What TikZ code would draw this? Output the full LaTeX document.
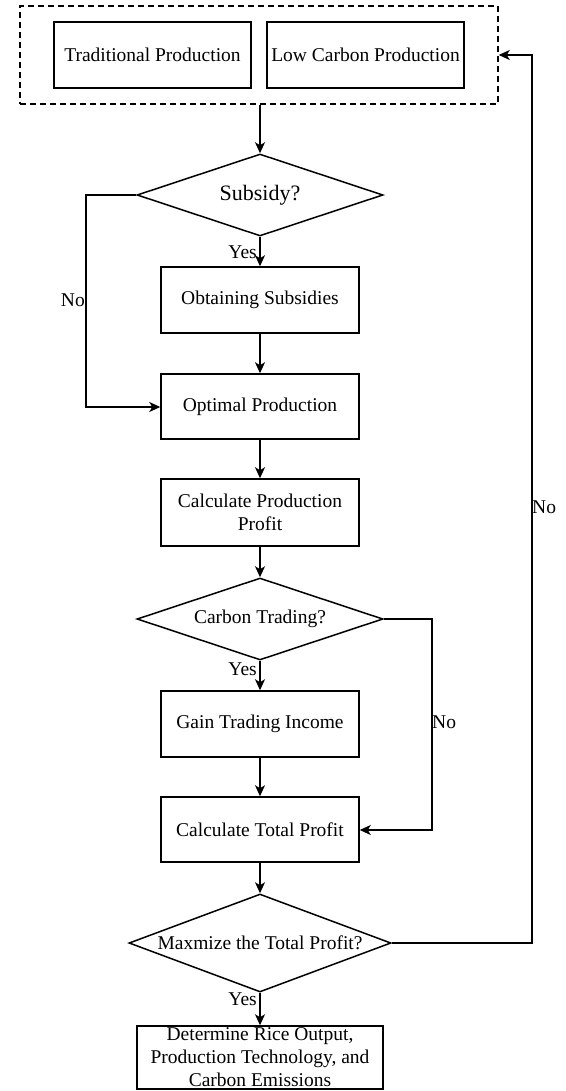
\documentclass[tikz,border=0pt]{standalone}
\usepackage{fontspec}
\setmainfont{Liberation Serif}
\usetikzlibrary{arrows.meta,shapes.geometric}
\begin{document}
\begin{tikzpicture}[x=1pt,y=-1pt,
  every node/.style={font=\fontsize{19.5pt}{23pt}\selectfont},
  box/.style={draw, line width=1.5pt, inner sep=0pt, align=center},
  decision/.style={draw, shape=diamond, inner sep=0pt, line width=1.5pt},
  group/.style={draw, dashed, dash pattern=on 6pt off 4pt, line width=1.5pt, inner sep=0pt},
  flow/.style={-{Stealth[length=11pt,width=10pt,inset=3pt]}, line width=1.5pt},
  lab/.style={inner sep=1pt}]
\useasboundingbox (0,0) rectangle (565,1091);

% production modes
\node[group, minimum width=478pt, minimum height=98pt] (modes) at (259,55) {};
\node[box, minimum width=197pt, minimum height=66pt] (trad) at (152.5,55) {Traditional Production};
\node[box, minimum width=197pt, minimum height=66pt] (low) at (365.5,55) {Low Carbon Production};

% main column
\node[decision, minimum width=246pt, minimum height=82pt,
      label={[font=\fontsize{22pt}{26pt}\selectfont]center:Subsidy?}] (subsidy) at (260,195) {};
\node[box, minimum width=198pt, minimum height=66pt] (obtain) at (260,300) {Obtaining Subsidies};
\node[box, minimum width=198pt, minimum height=65pt] (optimal) at (260,406.5) {Optimal Production};
\node[box, minimum width=198pt, minimum height=67pt] (prodprofit) at (260,512.5) {Calculate Production\\Profit};
\node[decision, minimum width=246pt, minimum height=82pt,
      label=center:{Carbon Trading?}] (carbon) at (260,619) {};
\node[box, minimum width=198pt, minimum height=66pt] (gain) at (260,724) {Gain Trading Income};
\node[box, minimum width=198pt, minimum height=65pt] (total) at (260,829.5) {Calculate Total Profit};
\node[decision, minimum width=262pt, minimum height=98pt,
      label=center:{Maxmize the Total Profit?}] (maxq) at (260,943) {};
\node[box, minimum width=246pt, minimum height=63pt] (result) at (260,1057.5)
  {Determine Rice Output,\\Production Technology, and\\Carbon Emissions};

% bend points of the side loops
\coordinate (subL) at (86,195);
\coordinate (optL) at (86,407);
\coordinate (carR) at (432,619);
\coordinate (totR) at (432,830);
\coordinate (maxR) at (532,943);
\coordinate (topR) at (532,55);

% straight flow
\draw[flow] (modes.south -| subsidy.north) -- (subsidy.north);
\draw[flow] (subsidy.south) -- (obtain.north);
\draw[flow] (obtain.south) -- (optimal.north);
\draw[flow] (optimal.south) -- (prodprofit.north);
\draw[flow] (prodprofit.south) -- (carbon.north);
\draw[flow] (carbon.south) -- (gain.north);
\draw[flow] (gain.south) -- (total.north);
\draw[flow] (total.south) -- (maxq.north);
\draw[flow] (maxq.south) -- (result.north);

% side loops
\draw[flow] (subsidy.west) -- (subL) -- (optL) -- (optimal.west |- optL);
\draw[flow] (carbon.east) -- (carR) -- (totR) -- (total.east |- totR);
\draw[flow] (maxq.east) -- (maxR) -- (topR) -- (modes.east);

% branch labels
\node[lab, anchor=east] (yes1) at (258,252) {Yes};
\node[lab, anchor=east] (yes2) at (258,669) {Yes};
\node[lab, anchor=east] (yes3) at (258,999) {Yes};
\node[lab, anchor=east] (no1) at (86,300) {No};
\node[lab, anchor=west, inner sep=0pt] (no2) at (432,722) {No};
\node[lab, anchor=west, inner sep=0pt] (no3) at (532,507) {No};
\end{tikzpicture}
\end{document}
